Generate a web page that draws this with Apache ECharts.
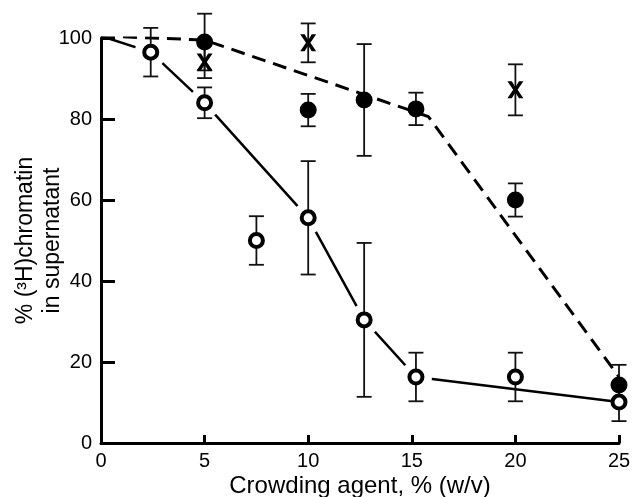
<!DOCTYPE html>
<html lang="en">
<head>
    <meta charset="UTF-8">
    <title>Chromatin in supernatant vs crowding agent</title>
    <style>
        html, body { margin: 0; padding: 0; background: #fff; }
        #chart { width: 632px; height: 497px; }
    </style>
    <script src="https://cdn.jsdelivr.net/npm/echarts@6/dist/echarts.min.js"></script>
</head>
<body>
    <div id="chart"></div>
    <script>
        // open circles (solid line)
        var openX = [2.4, 5, 7.5, 10, 12.7, 15.2, 20, 25];
        var openY = [96.5, 84, 50, 55.6, 30.4, 16.3, 16.3, 10.1];
        var openErr = [6, 3.8, 6, 14, 19, 6, 6, 4.7];

        // filled circles (dashed line)
        var fillX = [5, 10, 12.7, 15.2, 20, 25];
        var fillY = [99, 82.2, 84.7, 82.5, 60, 14.3];
        var fillErr = [7, 4, 13.8, 4, 4.1, 5];

        // crosses
        var crossX = [5, 10, 20];
        var crossY = [94.1, 98.8, 87.2];
        var crossErr = [4, 4.8, 6.3];

        // drawn curves
        var solidX = [0, 2.4, 5, 10, 12.7, 15.2, 25];
        var solidY = [100.5, 96.5, 84, 55.6, 30.4, 16.3, 10.1];
        var dashX = [0, 5, 15.8, 25];
        var dashY = [100.5, 99.5, 80.6, 16.3];

        var xTicks = [0, 5, 10, 15, 20, 25];
        var yTicks = [0, 20, 40, 60, 80, 100];

        var FONT = "'Liberation Sans', Arial, sans-serif";

        function pairs(xs, ys) {
            return xs.map(function (x, i) { return [x, ys[i]]; });
        }
        function errRows(xs, ys, es) {
            return xs.map(function (x, i) { return [x, ys[i] - es[i], ys[i] + es[i]]; });
        }

        function drawErr(params, api) {
            var lo = api.coord([api.value(0), api.value(1)]);
            var hi = api.coord([api.value(0), api.value(2)]);
            var w = 7.5;
            var st = { stroke: '#111', lineWidth: 1.8 };
            return {
                type: 'group',
                children: [
                    { type: 'line', shape: { x1: hi[0], y1: hi[1], x2: lo[0], y2: lo[1] }, style: st },
                    { type: 'line', shape: { x1: hi[0] - w, y1: hi[1], x2: hi[0] + w, y2: hi[1] }, style: st },
                    { type: 'line', shape: { x1: lo[0] - w, y1: lo[1], x2: lo[0] + w, y2: lo[1] }, style: st }
                ]
            };
        }

        var allErr = errRows(openX, openY, openErr)
            .concat(errRows(fillX, fillY, fillErr))
            .concat(errRows(crossX, crossY, crossErr));

        var crossPath = 'path://M0,0 L5,0 L9,7 L13,0 L18,0 L11.5,10 L18,20 L13,20 L9,13 L5,20 L0,20 L6.5,10 Z';

        var chart = echarts.init(document.getElementById('chart'));
        chart.setOption({
            animation: false,
            backgroundColor: '#fff',
            grid: { left: 101, right: 13, top: 38, bottom: 54, outerBoundsMode: 'none' },
            xAxis: {
                type: 'value',
                min: 0, max: 25, interval: 5,
                name: 'Crowding agent, % (w/v)',
                nameLocation: 'middle',
                nameGap: 31,
                nameMoveOverlap: false,
                nameTextStyle: { fontFamily: FONT, fontSize: 24, color: '#000' },
                axisLine: { lineStyle: { color: '#000', width: 3 } },
                axisTick: { inside: true, length: 8, lineStyle: { color: '#000', width: 3 } },
                axisLabel: {
                    fontFamily: FONT, fontSize: 20, color: '#000', margin: 8,
                    formatter: function (v) { return xTicks.indexOf(v) >= 0 ? String(v) : ''; }
                },
                splitLine: { show: false }
            },
            yAxis: {
                type: 'value',
                min: 0, max: 100, interval: 20,
                name: '% (\u00b3H)chromatin\nin supernatant',
                nameLocation: 'middle',
                nameGap: 35,
                nameMoveOverlap: false,
                nameTextStyle: { fontFamily: FONT, fontSize: 23, color: '#000', lineHeight: 27 },
                axisLine: { lineStyle: { color: '#000', width: 3 } },
                axisTick: { inside: true, length: 14, lineStyle: { color: '#000', width: 3 } },
                axisLabel: {
                    fontFamily: FONT, fontSize: 20, color: '#000', margin: 9,
                    formatter: function (v) { return yTicks.indexOf(v) >= 0 ? String(v) : ''; }
                },
                splitLine: { show: false }
            },
            series: [
                {
                    type: 'line',
                    data: pairs(solidX, solidY),
                    showSymbol: false,
                    z: 1,
                    lineStyle: { color: '#000', width: 2.5 }
                },
                {
                    // white gaps around the open circles the solid line joins
                    type: 'scatter',
                    data: pairs(solidX.slice(1, 6), solidY.slice(1, 6)),
                    symbol: 'circle',
                    symbolSize: 32,
                    silent: true,
                    z: 2,
                    itemStyle: { color: '#fff', opacity: 1 }
                },
                {
                    type: 'line',
                    data: pairs(dashX, dashY),
                    showSymbol: false,
                    z: 3,
                    lineStyle: { color: '#000', width: 3, type: [14, 8] }
                },
                {
                    type: 'custom',
                    data: allErr,
                    renderItem: drawErr,
                    encode: { x: 0, y: [1, 2] },
                    z: 4
                },
                {
                    type: 'scatter',
                    data: pairs(fillX, fillY),
                    symbol: 'circle',
                    symbolSize: 17,
                    z: 5,
                    itemStyle: { color: '#000', opacity: 1 }
                },
                {
                    type: 'scatter',
                    data: pairs(openX, openY),
                    symbol: 'circle',
                    symbolSize: 13,
                    z: 6,
                    itemStyle: { color: '#fff', borderColor: '#000', borderWidth: 4, opacity: 1 }
                },
                {
                    type: 'scatter',
                    data: pairs(crossX, crossY),
                    symbol: crossPath,
                    symbolSize: [16, 17],
                    z: 6,
                    itemStyle: { color: '#000', opacity: 1 }
                }
            ]
        });
    </script>
</body>
</html>
